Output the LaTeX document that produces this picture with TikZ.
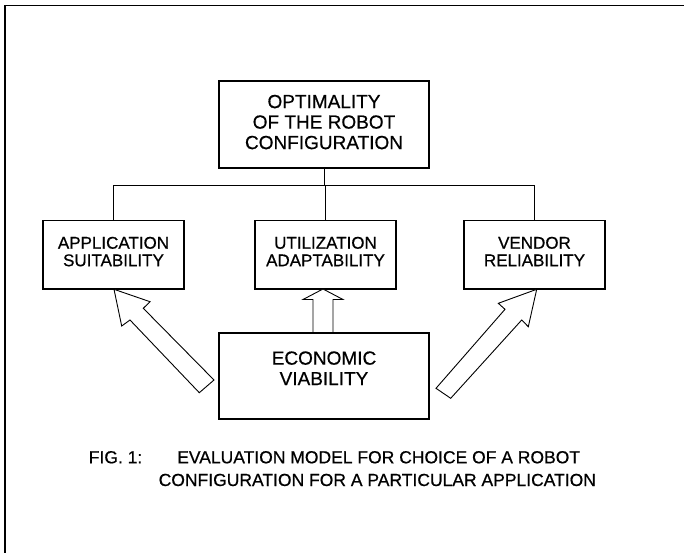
\documentclass[tikz,border=0pt]{standalone}
\usepackage{fontspec}
\setmainfont[FakeBold=0.6]{Liberation Sans}
\begin{document}
\begin{tikzpicture}[x=1pt,y=-1pt,
  box/.style={draw, line width=1.2pt, inner sep=0pt, align=center},
  bigbox/.style={box, minimum width=210pt, font=\fontsize{19}{20.5}\selectfont},
  smallbox/.style={box, minimum width=141pt, minimum height=68.3pt, font=\fontsize{17}{17.5}\selectfont},
  wire/.style={line width=0.9pt},
  blockarrow/.style={draw, fill=white, line width=0.9pt, line join=miter},
  caption/.style={anchor=base west, inner sep=0pt, font=\fontsize{17.5}{20}\selectfont},
  frame/.style={line width=1.6pt}]
\useasboundingbox (0,0) rectangle (684,553);

% page frame (left and top edges)
\draw[frame] (5,553) -- (5,5.7) -- (684,5.7);

% top goal
\node[bigbox, minimum height=87pt] (goal) at (324,124.5)
  {\begin{tabular}{@{}c@{}}OPTIMALITY\\OF THE ROBOT\\CONFIGURATION\end{tabular}};

% three criteria
\node[smallbox] (appl) at (113.5,254.85)
  {\begin{tabular}{@{}c@{}}APPLICATION\\SUITABILITY\\[1.8pt]\end{tabular}};
\node[smallbox] (util) at (325.5,254.85)
  {\begin{tabular}{@{}c@{}}UTILIZATION\\ADAPTABILITY\\[1.8pt]\end{tabular}};
\node[smallbox] (vend) at (534.5,254.85)
  {\begin{tabular}{@{}c@{}}VENDOR\\RELIABILITY\\[1.8pt]\end{tabular}};

% tree connectors
\coordinate (bus) at (goal.south |- 0,185.7);
\draw[wire] (goal.south) -- (bus);
\draw[wire] (appl.north) |- (bus) -| (vend.north);
\draw[wire] (bus) -- (bus -| util.north) -- (util.north);

% block arrows from economic viability
\draw[blockarrow] (323,289) -- (343,299.5) -- (333,299.5) -- (333,333)
  -- (313,333) -- (313,299.5) -- (303,299.5) -- cycle;
\draw[blockarrow] (114,289.3) -- (150,301.7) -- (143.3,308.3) -- (214,380)
  -- (199.3,392.7) -- (130,320) -- (121.7,326) -- cycle;
\draw[blockarrow] (536.7,289.3) -- (528.3,326.7) -- (521.7,320) -- (450.7,398.3)
  -- (436,388.3) -- (505,309.3) -- (498.3,303.3) -- cycle;

% base criterion
\node[bigbox, minimum height=86pt] (econ) at (324,376)
  {\begin{tabular}{@{}c@{}}ECONOMIC\\VIABILITY\\[10.4pt]\end{tabular}};

% caption
\node[caption] (figno) at (88.6,463.3) {FIG.\ 1:};
\node[caption] (capa) at (177,463.3) {EVALUATION MODEL FOR CHOICE OF A ROBOT};
\node[caption] (capb) at (158.5,486) {CONFIGURATION FOR A PARTICULAR APPLICATION};
\end{tikzpicture}
\end{document}
